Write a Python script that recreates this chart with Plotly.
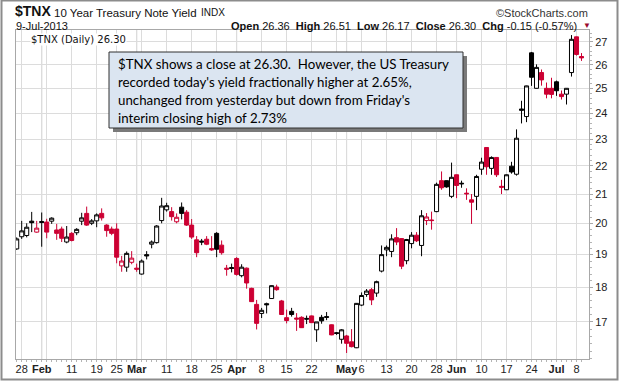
import math
import pandas as pd
import plotly.graph_objects as go

# ---------------- data ----------------
HOLIDAYS = ["2013-02-18", "2013-03-29", "2013-05-27", "2013-07-04"]
trade_dates = [d.strftime("%Y-%m-%d") for d in pd.bdate_range("2013-01-25", "2013-07-09")
               if d.strftime("%Y-%m-%d") not in HOLIDAYS]

open_ = [19.18, 19.57, 19.61, 20.08, 19.72, 20.07, 20.05, 20.08, 19.79, 19.82,
         19.40, 19.68, 19.70, 20.08, 20.34, 20.01, 20.09, 20.34, 19.95, 19.82,
         19.82, 18.65, 18.61, 18.76, 18.58, 18.40, 19.00, 19.33, 19.38, 20.10,
         20.46, 20.40, 20.06, 20.55, 20.38, 19.95, 19.47, 19.43, 19.49, 19.19,
         19.68, 19.30, 18.58, 18.60, 18.88, 18.35, 18.58, 17.97, 17.50, 17.24,
         17.52, 17.67, 18.01, 17.60, 17.12, 17.30, 17.11, 17.13, 17.10, 17.17,
         16.78, 17.13, 17.15, 16.92, 16.70, 16.52, 16.61, 16.45, 16.29, 17.48,
         17.79, 17.93, 17.83, 18.49, 19.15, 19.10, 19.54, 19.51, 18.81, 19.35,
         19.62, 19.29, 20.10, 20.12, 20.40, 21.47, 21.47, 20.92, 21.68, 21.38,
         21.03, 20.80, 20.92, 21.88, 22.68, 21.91, 22.31, 21.27, 21.15, 21.99,
         21.70, 24.17, 23.87, 26.52, 25.01, 25.67, 25.01, 25.01, 25.28, 24.77,
         24.77, 25.67, 27.23, 26.36]
high_ = [19.55, 20.09, 20.01, 20.39, 20.09, 20.37, 20.16, 20.21, 19.99, 19.90,
         19.92, 19.72, 19.85, 20.36, 20.57, 20.15, 20.34, 20.51, 19.98, 19.90,
         20.01, 18.96, 19.10, 19.11, 18.72, 18.85, 19.11, 19.45, 19.95, 20.87,
         20.70, 20.55, 20.34, 20.71, 20.45, 20.15, 19.59, 19.50, 19.59, 19.59,
         19.72, 19.45, 18.68, 18.72, 18.92, 18.70, 18.60, 17.99, 17.63, 17.40,
         17.55, 18.06, 18.08, 17.63, 17.35, 17.40, 17.25, 17.16, 17.18, 17.18,
         17.00, 17.20, 17.28, 16.93, 16.72, 16.80, 16.64, 16.80, 17.54, 17.85,
         17.95, 17.98, 18.20, 19.29, 19.29, 19.65, 19.85, 19.52, 19.50, 19.72,
         19.72, 20.45, 20.35, 20.40, 21.40, 21.80, 21.48, 22.12, 21.69, 21.47,
         21.20, 21.00, 21.68, 22.30, 22.69, 22.35, 22.32, 21.50, 21.69, 22.15,
         23.37, 24.50, 25.12, 26.56, 26.02, 25.80, 25.25, 25.45, 25.33, 24.92,
         25.02, 27.31, 27.24, 26.51]
low_ = [19.15, 19.50, 19.55, 19.72, 19.70, 19.25, 19.52, 19.99, 19.47, 19.40,
        19.36, 19.42, 19.62, 19.95, 19.92, 19.95, 19.88, 20.10, 19.57, 19.62,
        18.73, 18.47, 18.47, 18.70, 18.47, 18.38, 18.85, 19.20, 19.35, 20.01,
        20.40, 20.10, 20.01, 20.14, 19.92, 19.50, 18.92, 19.30, 19.30, 19.12,
        18.92, 19.00, 18.35, 18.45, 18.35, 18.30, 17.96, 17.57, 16.79, 17.11,
        17.24, 17.66, 17.90, 17.20, 16.96, 17.15, 16.75, 16.83, 16.94, 16.97,
        16.45, 16.95, 17.05, 16.63, 16.64, 16.40, 16.15, 16.30, 16.28, 17.45,
        17.72, 17.48, 17.72, 18.45, 18.95, 18.92, 19.30, 18.55, 18.70, 19.20,
        19.40, 18.95, 19.95, 19.80, 20.38, 21.15, 21.22, 20.86, 20.86, 21.22,
        20.80, 19.99, 20.45, 21.68, 21.68, 21.68, 21.60, 21.00, 21.14, 21.72,
        21.65, 23.60, 23.65, 25.11, 25.00, 25.12, 24.60, 24.60, 24.70, 24.55,
        24.35, 25.50, 26.40, 26.17]
close_ = [19.50, 19.76, 19.88, 20.03, 19.85, 20.04, 19.72, 20.18, 19.68, 19.52,
          19.56, 19.45, 19.81, 20.19, 19.95, 20.09, 20.29, 20.19, 19.77, 19.68,
          18.92, 18.80, 19.04, 18.89, 18.55, 18.80, 18.96, 19.40, 19.92, 20.59,
          20.60, 20.23, 20.21, 20.34, 19.95, 19.56, 19.06, 19.40, 19.33, 19.15,
          19.17, 19.06, 18.55, 18.57, 18.39, 18.61, 18.13, 17.58, 16.96, 17.33,
          17.49, 18.05, 17.93, 17.21, 17.04, 17.21, 17.08, 16.84, 17.08, 16.98,
          17.00, 17.03, 17.13, 16.64, 16.68, 16.78, 16.41, 16.32, 17.53, 17.76,
          17.89, 17.63, 18.17, 19.00, 19.23, 19.50, 19.40, 18.64, 19.48, 19.62,
          19.44, 20.26, 20.22, 20.10, 21.34, 21.22, 21.25, 21.59, 21.30, 21.36,
          21.01, 20.72, 21.62, 22.14, 21.97, 22.31, 21.68, 21.24, 21.68, 21.78,
          23.03, 24.12, 25.11, 25.47, 25.89, 25.36, 24.77, 24.76, 24.91, 24.67,
          25.01, 27.12, 26.45, 26.30]

tick_dates = ["2013-01-28", "2013-02-01", "2013-02-11", "2013-02-19", "2013-02-25",
              "2013-03-01", "2013-03-11", "2013-03-18", "2013-03-25", "2013-04-01",
              "2013-04-08", "2013-04-15", "2013-04-22", "2013-05-01", "2013-05-06",
              "2013-05-13", "2013-05-20", "2013-05-28", "2013-06-03", "2013-06-10",
              "2013-06-17", "2013-06-24", "2013-07-01", "2013-07-08"]
tick_text = ["28", "Feb", "11", "19", "25", "Mar", "11", "18", "25", "Apr", "8", "15",
             "22", "May", "6", "13", "20", "28", "Jun", "10", "17", "24", "Jul", "8"]
month_dates = ["2013-02-01", "2013-03-01", "2013-04-01", "2013-05-01", "2013-06-03", "2013-07-01"]
extra_grid_dates = ["2013-02-04", "2013-03-04", "2013-04-29"]
y_ticks = [17, 18, 19, 20, 21, 22, 23, 24, 25, 26, 27]

# ---------------- figure ----------------
pos = {d: i for i, d in enumerate(trade_dates)}
xs = list(range(len(trade_dates)))

RED = "#cc0033"
BLK = "#000000"
black_idx = [i for i in xs if i == 0 or close_[i] >= close_[i - 1]]
red_idx = [i for i in xs if i > 0 and close_[i] < close_[i - 1]]

fig = go.Figure()
for col, idx in ((BLK, black_idx), (RED, red_idx)):
    fig.add_trace(go.Candlestick(
        x=[xs[i] for i in idx],
        open=[open_[i] for i in idx], high=[high_[i] for i in idx],
        low=[low_[i] for i in idx], close=[close_[i] for i in idx],
        increasing=dict(line=dict(color=col, width=1), fillcolor="white"),
        decreasing=dict(line=dict(color=col, width=1), fillcolor=col),
        whiskerwidth=0, showlegend=False, hoverinfo="skip"))

# plot geometry (pixels)
L, R, T, B = 16, 589, 30, 359
W, H = 620, 381
def px(xp):
    return (xp - L) / (R - L)
def py(yp):
    return (B - yp) / (B - T)

grid_vals = sorted([pos[d] for d in tick_dates] + [pos[d] for d in extra_grid_dates])
label_map = {pos[d]: t for d, t in zip(tick_dates, tick_text)}
month_set = set(pos[d] for d in month_dates)
grid_text = []
for v in grid_vals:
    t = label_map.get(v, "")
    if t and v in month_set:
        t = "<b>" + t + "</b>"
    grid_text.append(t)

minor_y = [round(16 + 0.2 * k, 1) for k in range(58)]

fig.update_layout(
    width=W, height=H,
    margin=dict(l=L, r=W - R, t=T, b=H - B, pad=0, autoexpand=False),
    paper_bgcolor="white", plot_bgcolor="white",
    boxgap=0.1, boxgroupgap=0.1,
    font=dict(family="Liberation Sans, Arial, sans-serif", size=11, color="#222222"),
    xaxis=dict(
        range=[-0.14, 114.5], tickmode="array", tickvals=grid_vals, ticktext=grid_text,
        tickangle=0, automargin=False,
        showgrid=True, gridcolor="#dcdcdc", gridwidth=1, ticks="",
        showline=True, linecolor="#a8a8a8", linewidth=1, mirror=True, zeroline=False,
        tickfont=dict(size=11, color="#222222"),
        rangeslider=dict(visible=False), fixedrange=True,
        minor=dict(tickvals=xs, ticks="outside", ticklen=2, tickcolor="#b4b4b4", showgrid=False),
    ),
    yaxis=dict(
        type="log", range=[math.log10(15.99), math.log10(27.54)], side="right",
        tickmode="array", tickvals=y_ticks, ticktext=[str(v) for v in y_ticks],
        ticks="outside", ticklen=3, tickcolor="#a8a8a8", automargin=False,
        showgrid=True, gridcolor="#dcdcdc", gridwidth=1,
        showline=True, linecolor="#a8a8a8", linewidth=1, mirror=True, zeroline=False,
        tickfont=dict(size=11, color="#222222"),
        minor=dict(tickvals=minor_y, ticks="outside", ticklen=2, tickcolor="#b4b4b4", showgrid=False),
        fixedrange=True,
    ),
)

shapes = []
for v in month_set:
    shapes.append(dict(type="line", xref="x", yref="paper", x0=v, x1=v, y0=0, y1=1,
                       line=dict(color="#b4b4b4", width=1), layer="below"))
# outer frame
shapes.append(dict(type="rect", xref="paper", yref="paper",
                   x0=px(1.5), x1=px(617.5), y0=py(379.5), y1=py(0.5),
                   line=dict(color="#8c8c8c", width=2), fillcolor="rgba(0,0,0,0)", layer="above"))
# comment box: shadow + box
shapes.append(dict(type="rect", xref="paper", yref="paper",
                   x0=px(113), x1=px(467), y0=py(132), y1=py(56),
                   line=dict(width=0), fillcolor="#7a7a7a", layer="above"))
shapes.append(dict(type="rect", xref="paper", yref="paper",
                   x0=px(109), x1=px(463), y0=py(128), y1=py(52),
                   line=dict(color="#303030", width=1), fillcolor="#dbe5f1", layer="above"))
fig.update_layout(shapes=shapes)

ann = []
def add(text, x, y, size, xanchor="left", color="#111111", family="Liberation Sans, Arial, sans-serif", **kw):
    ann.append(dict(text=text, xref="paper", yref="paper", x=px(x), y=py(y), xanchor=xanchor,
                    yanchor="middle", showarrow=False, borderpad=0,
                    font=dict(size=size, color=color, family=family), **kw))

add("<b>$TNX</b>", 14, 11, 14)
add("10 Year Treasury Note Yield", 53, 12.5, 11.5)
add("INDX", 200, 13, 10)
add("©StockCharts.com", 589, 12.5, 11, xanchor="right", color="#333333")
add("9-Jul-2013", 15, 25.5, 11)
add("<b>Open</b> 26.36  <b>High</b> 26.51  <b>Low</b> 26.17  <b>Close</b> 26.30  <b>Chg</b> -0.15 (-0.57%)",
    578, 25.5, 11, xanchor="right")
add("▼", 582, 25.5, 8, color="#9b0a2e")
add("$TNX (Daily) 26.30", 30, 40, 10, family="DejaVu Sans, Verdana, sans-serif", bgcolor="white")

box_lines = ["$TNX shows a close at 26.30.  However, the US Treasury",
             "recorded today's yield fractionally higher at 2.65%,",
             "unchanged from yesterday but down from Friday's",
             "interim closing high of 2.73%"]
for k, line in enumerate(box_lines):
    add(line, 117, 63.5 + 18 * k, 13.3, family="Lato, Carlito, sans-serif", color="#000000")

fig.update_layout(annotations=ann)
fig.write_html("out.html", config={"displayModeBar": False, "staticPlot": True},
               post_script="document.body.style.margin='0';document.body.style.overflow='hidden';")
